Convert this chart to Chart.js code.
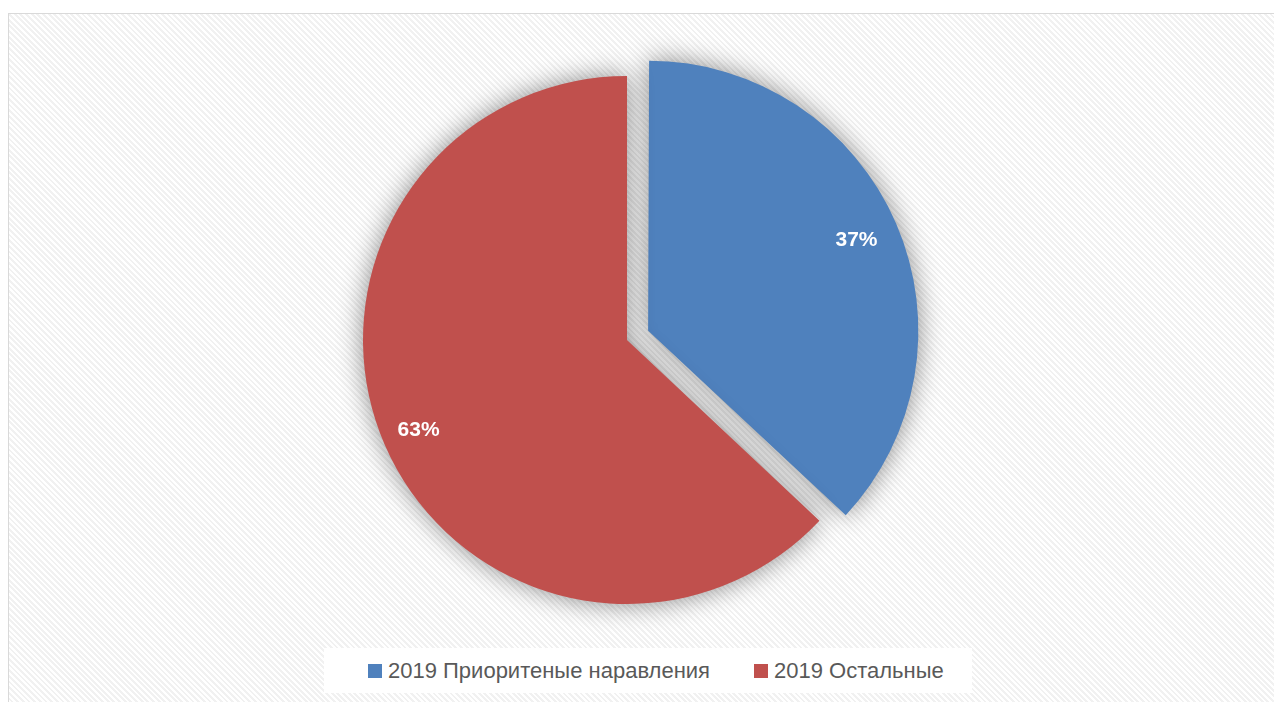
<!DOCTYPE html>
<html>
<head>
<meta charset="utf-8">
<script src="https://cdn.jsdelivr.net/npm/chart.js@4"></script>
<style>
  html, body { margin: 0; padding: 0; background: #fff; }
  #wrap { position: relative; width: 1274px; height: 702px; overflow: hidden; }
  #frame {
    position: absolute; left: 8px; top: 13px; width: 1280px; height: 700px;
    border: 1px solid #d9d9d9;
    background: repeating-linear-gradient(45deg, #ffffff 0px, #ffffff 2px, #f1f1f1 2px, #f1f1f1 4px);
  }
  #chart { position: absolute; left: 0; top: 0; }
  #legend {
    position: absolute; left: 324px; top: 648px; width: 604px; height: 45px;
    padding-left: 44px; white-space: nowrap;
    background: #fff; display: flex; align-items: center; justify-content: flex-start;
    font-family: "Liberation Sans", Arial, sans-serif; font-size: 22px; color: #595959;
  }
  .item { display: flex; align-items: center; margin-right: 44px; flex-shrink: 0; }
  .box { width: 14px; height: 14px; margin-right: 6px; flex-shrink: 0; }
</style>
</head>
<body>
<div id="wrap">
  <div id="frame"></div>
  <canvas id="chart" width="1274" height="702"></canvas>
  <div id="legend"></div>
</div>
<script>
  const labels = ["2019 Приоритеные наравления", "2019 Остальные"];
  const values = [37, 63];
  const colors = ["#4F81BD", "#C0504D"];
  const offsets = [92, 0];   // Chart.js v4 сдвигает сектор на offset/4

  // тень вокруг круга
  const shadowPlugin = {
    id: "shadow",
    beforeDatasetsDraw(chart) {
      const ctx = chart.ctx;
      ctx.save();
      ctx.shadowColor = "rgba(0,0,0,0.45)";
      ctx.shadowBlur = 26;
    },
    afterDatasetsDraw(chart) {
      chart.ctx.restore();
    }
  };

  // подписи процентов
  const pctLabels = {
    id: "pctLabels",
    afterDraw(chart) {
      const ctx = chart.ctx;
      const meta = chart.getDatasetMeta(0);
      const total = values.reduce((a, b) => a + b, 0);
      ctx.save();
      ctx.fillStyle = "#fff";
      ctx.font = "bold 21px 'Liberation Sans', Arial, sans-serif";
      ctx.textAlign = "center";
      ctx.textBaseline = "middle";
      meta.data.forEach((arc, i) => {
        const p = arc.getProps(["x", "y", "startAngle", "endAngle", "outerRadius"], true);
        const mid = (p.startAngle + p.endAngle) / 2;
        const r = offsets[i] / 4 + p.outerRadius * 0.86;
        const txt = Math.round(values[i] / total * 100) + "%";
        ctx.fillText(txt, p.x + Math.cos(mid) * r, p.y + Math.sin(mid) * r);
      });
      ctx.restore();
    }
  };

  const ctx = document.getElementById("chart").getContext("2d");
  const chart = new Chart(ctx, {
    type: "pie",
    data: {
      labels: labels,
      datasets: [{
        data: values,
        backgroundColor: colors,
        borderWidth: 0,
        offset: offsets
      }]
    },
    options: {
      responsive: false,
      animation: false,
      layout: { padding: { left: 127, right: 147, top: 30, bottom: 52 } },
      plugins: {
        legend: { display: false },
        tooltip: { enabled: false }
      }
    },
    plugins: [shadowPlugin, pctLabels]
  });

  const legend = document.getElementById("legend");
  labels.forEach((l, i) => {
    const it = document.createElement("div");
    it.className = "item";
    it.innerHTML = '<span class="box" style="background:' + colors[i] + '"></span><span>' + l + '</span>';
    legend.appendChild(it);
  });
</script>
</body>
</html>
